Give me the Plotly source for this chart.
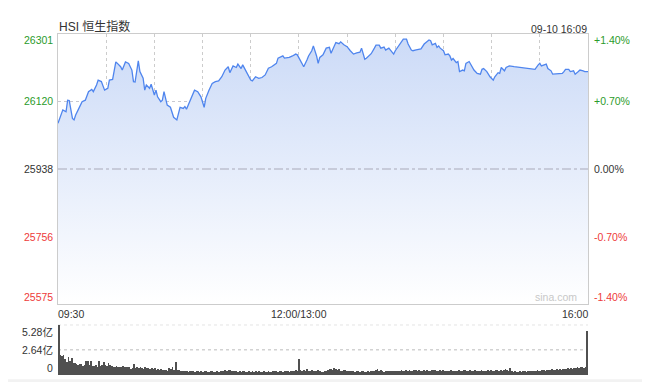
import plotly.graph_objects as go

# ---- data ----
price_minutes = [0, 3, 5, 6, 7, 9, 10, 11, 13, 15, 17, 19, 21, 22, 24, 25, 27, 29, 31, 32, 34, 36, 37, 39, 40,
                 42, 44, 46, 47, 48, 50, 51, 53, 54, 55, 57, 58, 60, 61, 62, 64, 65, 66, 68, 70, 72, 74, 76, 78,
                 79, 80, 82, 83, 85, 87, 88, 89, 91, 92, 94, 96, 98, 100, 102, 104, 106, 107, 109,
                 111, 112, 114, 115, 117, 118, 120, 121, 123, 125, 127, 129, 131, 133, 136, 137, 140, 141, 144,
                 146, 148, 149, 150, 152, 153, 155, 156, 158, 159, 161, 162, 163, 165, 167, 169, 170, 172, 173,
                 175, 176, 178, 180, 182, 184, 186, 188, 189, 191, 192, 194, 195, 197, 198, 200, 201, 203, 204,
                 206, 208, 209, 210, 212, 213, 215, 217, 218, 220,
                 221, 223, 226, 228, 231, 232, 233, 235, 236, 237, 238, 240, 241, 243, 244, 245, 246, 248, 249,
                 250, 252, 253, 254, 256, 258, 259, 261, 263, 264, 265, 267, 269, 271, 272, 274, 275, 276, 278,
                 279, 281, 284, 287, 290, 292, 293, 297, 299, 300, 301, 303, 304, 305, 307, 308, 311, 314, 315,
                 316, 318, 319, 321, 322, 324, 325, 327, 328, 330]
price_values = [26061, 26097, 26092, 26123, 26122, 26074, 26070, 26083, 26101, 26119, 26123, 26146, 26152, 26146,
                26164, 26177, 26173, 26150, 26155, 26177, 26179, 26226, 26222, 26213, 26204,
                26226, 26222, 26204, 26173, 26172, 26229, 26200, 26182, 26150, 26164, 26155, 26166, 26137, 26150,
                26132, 26119, 26123, 26146, 26110, 26104, 26077, 26070, 26104, 26101,
                26106, 26099, 26119, 26128, 26150, 26146, 26137, 26132, 26104, 26128, 26150, 26168, 26173, 26175,
                26186, 26204, 26213, 26197, 26215,
                26211, 26220, 26208, 26218, 26200, 26193, 26177, 26175, 26186, 26182, 26184, 26191, 26209, 26213,
                26222, 26236, 26242, 26236, 26238,
                26242, 26247, 26245, 26236, 26218, 26213, 26231, 26242, 26256, 26269, 26242, 26222, 26238, 26245,
                26263, 26265, 26249, 26266, 26278,
                26275, 26280, 26272, 26267, 26256, 26247, 26250, 26252, 26263, 26233, 26236, 26245, 26248, 26263,
                26271, 26271, 26263, 26266, 26258,
                26263, 26254, 26247, 26256, 26269, 26274, 26287, 26287, 26274, 26258,
                26256, 26258, 26261, 26274, 26285, 26283, 26272, 26276, 26265, 26269, 26263, 26256, 26245, 26247,
                26242, 26231, 26235, 26224, 26227,
                26200, 26204, 26202, 26222, 26227, 26213, 26204, 26195, 26193, 26206, 26208, 26200, 26186, 26177,
                26186, 26197, 26195, 26211, 26202,
                26211, 26215, 26213, 26211, 26211, 26208, 26208, 26206, 26218, 26222, 26215, 26218, 26220, 26208,
                26202, 26193, 26193, 26195, 26200,
                26206, 26206, 26200, 26202, 26193, 26200, 26204, 26202, 26200, 26200]

volume_yi = [5.28, 2.16, 2.05, 2.16, 1.70, 1.42, 1.88, 1.53, 1.77, 1.25,
             1.25, 1.18, 1.11, 1.18, 1.18, 1.01, 1.11, 1.46, 1.46, 1.11,
             1.46, 1.01, 1.01, 1.11, 0.90, 1.46, 1.01, 1.11, 1.35, 1.11,
             1.01, 1.25, 1.11, 1.01, 0.90, 0.83, 1.01, 0.83, 0.90, 0.90,
             1.01, 0.90, 0.83, 0.83, 0.83, 0.66, 0.76, 1.18, 0.76, 0.90,
             0.76, 0.83, 0.76, 0.66, 0.83, 0.76, 0.73, 0.66, 0.76, 0.66,
             0.73, 0.59, 0.66, 0.55, 0.66, 0.55, 0.55, 0.59, 0.49, 0.76,
             0.66, 0.90, 0.55, 1.36, 0.59, 0.52, 0.45, 0.49, 0.42, 0.49,
             0.45, 0.38, 0.49, 0.42, 0.45, 0.38, 0.42, 0.49, 0.35, 0.42,
             0.38, 0.45, 0.42, 0.35, 0.38, 0.42, 0.45, 0.38, 0.35, 0.42,
             0.38, 0.45, 0.49, 0.42, 0.55, 0.45, 0.59, 0.52, 0.45, 0.49,
             0.42, 0.45, 0.38, 0.42, 0.35, 0.45, 0.42, 0.38, 0.35, 0.42,
             0.38, 0.45, 0.35, 0.42, 0.38, 0.45, 0.35, 0.38, 0.42, 0.35,
             0.38, 0.42, 0.35, 0.38, 0.45, 0.42, 0.49, 0.38, 0.42, 0.45,
             0.38, 0.42, 0.49, 0.45, 0.38, 0.49, 0.42, 0.45, 0.52, 0.45,
             1.70, 0.52, 0.45, 0.59, 0.49, 0.62, 0.45, 0.42, 0.55, 0.42,
             0.49, 0.45, 0.52, 0.42, 0.38, 0.35, 0.42, 0.45, 0.55, 0.62,
             0.66, 0.55, 0.73, 0.62, 0.55, 0.66, 0.49, 0.45, 0.59, 0.52,
             0.45, 0.42, 0.49, 0.45, 0.42, 0.38, 0.42, 0.45, 0.38, 0.42,
             0.45, 0.38, 0.35, 0.42, 0.38, 0.45, 0.49, 0.42, 0.52, 0.62,
             0.45, 0.55, 0.42, 0.38, 0.49, 0.45, 0.42, 0.49, 0.45, 0.42,
             0.45, 0.49, 0.42, 0.45, 0.55, 0.49, 0.45, 0.52, 0.42, 0.55,
             0.49, 0.45, 0.59, 0.52, 0.45, 0.55, 0.49, 0.42, 0.59, 0.45,
             0.55, 0.49, 0.45, 0.52, 0.55, 0.59, 0.49, 0.45, 0.52, 0.49,
             0.55, 0.45, 0.49, 0.42, 0.45, 0.52, 0.45, 0.49, 0.42, 0.45,
             0.52, 0.49, 0.45, 0.55, 0.52, 0.45, 0.49, 0.55, 0.45, 0.49,
             0.52, 0.42, 0.45, 0.49, 0.55, 0.49, 0.45, 0.42, 0.52, 0.49,
             0.55, 0.45, 0.49, 0.52, 0.59, 0.45, 0.52, 0.49, 0.55, 0.62,
             0.52, 0.45, 0.76, 0.42, 0.38, 0.42, 0.35, 0.38, 0.42, 0.38,
             0.42, 0.45, 0.38, 0.42, 0.45, 0.42, 0.49, 0.45, 0.49, 0.52,
             0.45, 0.49, 0.52, 0.55, 0.49, 0.52, 0.59, 0.55, 0.62, 0.55,
             0.59, 0.62, 0.55, 0.66, 0.59, 0.62, 0.69, 0.62, 0.73, 0.66,
             0.76, 0.69, 0.80, 0.76, 0.83, 0.76, 0.87, 0.83, 0.80, 0.87,
             4.66]
volume_minutes = list(range(len(volume_yi)))

price_ticks = [26301, 26120, 25938, 25756, 25575]
pct_ticks = ["+1.40%", "+0.70%", "0.00%", "-0.70%", "-1.40%"]
vol_ticks = [5.28, 2.64, 0]
vol_tick_text = ["5.28亿", "2.64亿", "0"]
grid_minutes = [0, 30, 60, 90, 120, 150, 180, 210, 240, 270, 300, 330]
x_label_minutes = [0, 150, 330]
x_labels = ["09:30", "12:00/13:00", "16:00"]
title_text = "HSI 恒生指数"
time_text = "09-10 16:09"
prev_close = 25938

GREEN = "#2a9b2a"
RED = "#ee3a3a"
DARK = "#333333"
FONT = "Liberation Sans, Arial, Noto Sans CJK SC, sans-serif"
FS = 10.5

fig = go.Figure()
fig.add_trace(go.Scatter(
    x=price_minutes, y=price_values, mode="lines",
    line=dict(color="#4f85ee", width=1.3),
    fill="tozeroy",
    fillgradient=dict(type="vertical", colorscale=[[0, "#ffffff"], [1, "#cbdaf7"]],
                      start=price_ticks[-1], stop=price_ticks[0]),
    xaxis="x", yaxis="y", hoverinfo="skip", showlegend=False))
fig.add_trace(go.Bar(
    x=volume_minutes, y=volume_yi, marker=dict(color="#505050", line=dict(width=0)),
    width=0.5, xaxis="x2", yaxis="y2", hoverinfo="skip", showlegend=False))

annotations = []
for i, (v, p) in enumerate(zip(price_ticks, pct_ticks)):
    col = GREEN if i < 2 else (DARK if i == 2 else RED)
    ys = -6 if i == 0 else (7 if i == 4 else 0)
    annotations.append(dict(x=0, xref="paper", y=v, yref="y", text=str(v), showarrow=False,
                            xanchor="right", xshift=-3, yshift=ys, font=dict(size=FS, color=col, family=FONT)))
    annotations.append(dict(x=1, xref="paper", y=v, yref="y", text=p, showarrow=False,
                            xanchor="left", xshift=4, yshift=ys, font=dict(size=FS, color=col, family=FONT)))
for i, (v, t) in enumerate(zip(vol_ticks, vol_tick_text)):
    ys = -7 if i == 0 else (7 if i == 2 else 0)
    annotations.append(dict(x=0, xref="paper", y=v, yref="y2", text=t, showarrow=False,
                            xanchor="right", xshift=-3, yshift=ys, font=dict(size=FS, color=DARK, family=FONT)))
anchors = ["left", "center", "right"]
for m, t, a in zip(x_label_minutes, x_labels, anchors):
    annotations.append(dict(x=m, xref="x", y=0, yref="y domain", text=t, showarrow=False,
                            xanchor=a, yanchor="top", yshift=-2,
                            xshift=(-2 if a == "left" else (2 if a == "right" else 0)),
                            font=dict(size=FS, color=DARK, family=FONT)))
annotations.append(dict(x=0, xref="paper", y=1, yref="y domain", text=title_text, showarrow=False,
                        xanchor="left", yanchor="bottom", xshift=-1, yshift=-2,
                        font=dict(size=12, color=DARK, family=FONT)))
annotations.append(dict(x=1, xref="paper", y=1, yref="y domain", text=time_text, showarrow=False,
                        xanchor="right", yanchor="bottom", xshift=1, yshift=-3,
                        font=dict(size=FS, color=DARK, family=FONT)))
annotations.append(dict(x=1, xref="paper", y=0, yref="y domain", text="sina.com", showarrow=False,
                        xanchor="right", yanchor="bottom", xshift=-9, yshift=-1,
                        font=dict(size=FS, color="#c8c8c8", family=FONT)))

shapes = [
    dict(type="line", xref="x domain", x0=0, x1=1, yref="y", y0=prev_close, y1=prev_close,
         line=dict(color="#a9a9b8", width=1, dash="dashdot"), layer="above"),
    dict(type="line", xref="x2 domain", x0=0, x1=1, yref="y2", y0=vol_ticks[0], y1=vol_ticks[0],
         line=dict(color="#bbbbbb", width=1, dash="dot"), layer="below"),
    dict(type="line", xref="x2 domain", x0=0, x1=1, yref="y2", y0=vol_ticks[1], y1=vol_ticks[1],
         line=dict(color="#bbbbbb", width=1, dash="dot"), layer="below"),
    dict(type="rect", xref="paper", x0=-0.095, x1=1.102, yref="paper", y0=-0.03, y1=-0.0126,
         fillcolor="#f2f2f2", line=dict(width=0), layer="below"),
]

# page body has an 8px margin, so the figure is sized/offset to match the reference frame
fig.update_layout(
    width=643, height=374,
    margin=dict(l=50, r=63, t=26, b=7),
    paper_bgcolor="white", plot_bgcolor="rgba(0,0,0,0)",
    bargap=0,
    xaxis=dict(domain=[0, 1], range=[0, 330], tickvals=grid_minutes, showticklabels=False,
               showgrid=True, gridcolor="#cccccc", griddash="dot", gridwidth=1,
               showline=True, mirror=True, linecolor="#cccccc", linewidth=1, zeroline=False,
               ticks="", anchor="y", fixedrange=True),
    yaxis=dict(domain=[0.2082, 1], range=[price_ticks[-1], price_ticks[0]],
               tickvals=[price_ticks[1], price_ticks[3]], showticklabels=False,
               showgrid=True, gridcolor="#c8c8d0", griddash="dot", gridwidth=1,
               showline=True, mirror=True, linecolor="#cccccc", linewidth=1, zeroline=False,
               ticks="", anchor="x"),
    xaxis2=dict(domain=[0, 1], range=[-0.5, 330.5], showticklabels=False, showgrid=False,
                zeroline=False, showline=False, ticks="", anchor="y2"),
    yaxis2=dict(domain=[0, 0.1475], range=[0, vol_ticks[0]], showticklabels=False, showgrid=False,
                zeroline=False, showline=False, ticks="", anchor="x2"),
    annotations=annotations,
    shapes=shapes,
)

fig.write_html("out.html")
